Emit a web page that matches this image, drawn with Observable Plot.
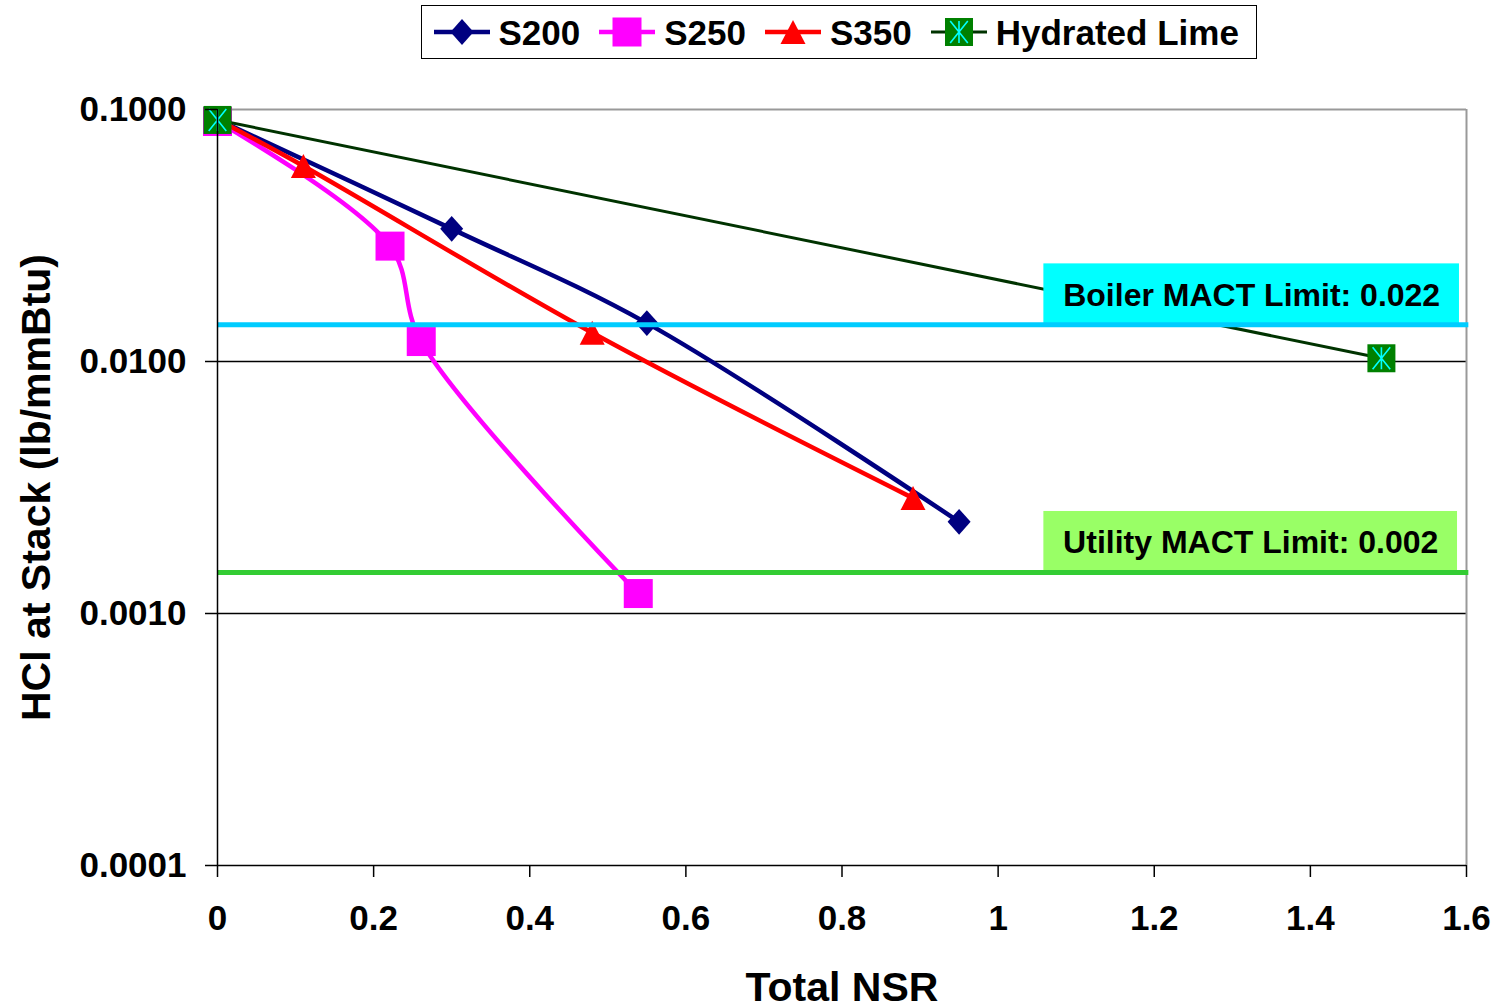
<!DOCTYPE html>
<html><head><meta charset="utf-8">
<script src="https://cdn.jsdelivr.net/npm/d3@7"></script>
<script src="https://cdn.jsdelivr.net/npm/@observablehq/plot@0.6"></script>
<style>
body{margin:0;background:#fff;font-family:"Liberation Sans",Arial,sans-serif;}
#legend{position:relative;height:65px;width:1501px;}
.box{position:absolute;left:421px;top:5px;width:836px;height:54px;box-sizing:border-box;border:1.5px solid #000;display:flex;align-items:center;padding-left:11.5px;white-space:nowrap;}
.item{display:flex;align-items:center;margin-right:19px;flex:none;}
.item svg{margin-right:9px;display:block;}
.item span{font-weight:bold;font-size:35px;line-height:1;color:#000;white-space:nowrap;}
</style></head><body>
<div id="legend"></div>
<div id="chart"></div>
<script>
// ---- data ----
const seriesNames = ["S200", "S250", "S350", "Hydrated Lime"];
const nsrS200 = [0, 0.30, 0.55, 0.95];
const hclS200 = [0.0913, 0.0336, 0.0142, 0.00231];
const nsrS250 = [0, 0.221, 0.261, 0.539];
const hclS250 = [0.0896, 0.0287, 0.0120, 0.00120];
const nsrS350 = [0, 0.11, 0.48, 0.891];
const hclS350 = [0.0913, 0.0597, 0.0130, 0.00287];
const nsrLime = [0, 1.491];
const hclLime = [0.0909, 0.0103];

const limitNames = ["Boiler MACT Limit: 0.022", "Utility MACT Limit: 0.002"];
const limitLevels = [0.0140, 0.001455];
const limitBoxTop = [0.0244, 0.00254];
const limitBoxLeft = [1.0586, 1.0586];
const limitBoxRight = [1.591, 1.5885];

const xTicks = [0, 0.2, 0.4, 0.6, 0.8, 1, 1.2, 1.4, 1.6];
const yTicks = [0.0001, 0.001, 0.01, 0.1];
const xTitle = "Total NSR";
const yTitle = "HCl at Stack (lb/mmBtu)";

// ---- styles ----
const seriesColors = ["#000080", "#FF00FF", "#FF0000", "#003300"];
const limeFill = "#008000", limeStar = "#00FFFF";
const limitLineColors = ["#00CCFF", "#33CC33"];
const limitBoxColors = ["#00FFFF", "#99FF66"];

const diamondSym = {draw(c, size){const r = Math.sqrt(size/Math.PI); c.moveTo(0,-r*1.12); c.lineTo(r,0); c.lineTo(0,r*1.12); c.lineTo(-r,0); c.closePath();}};
const squareSym = {draw(c, size){const r = Math.sqrt(size/Math.PI); c.moveTo(-r,-r); c.lineTo(r,-r); c.lineTo(r,r); c.lineTo(-r,r); c.closePath();}};
const triangleSym = {draw(c, size){const r = Math.sqrt(size/Math.PI); c.moveTo(0,-r*0.96); c.lineTo(r,r*0.96); c.lineTo(-r,r*0.96); c.closePath();}};
const asteriskSym = {draw(c, size){const r = Math.sqrt(size/Math.PI); c.moveTo(0,-r); c.lineTo(0,r); c.moveTo(-0.8*r,-r); c.lineTo(0.8*r,r); c.moveTo(0.8*r,-r); c.lineTo(-0.8*r,r);}};

const table = (xs, ys) => xs.map((x, i) => ({x, y: ys[i]}));
const s200 = table(nsrS200, hclS200);
const s250 = table(nsrS250, hclS250);
const s350 = table(nsrS350, hclS350);
const lime = table(nsrLime, hclLime);
const limits = limitNames.map((name, i) => ({name, level: limitLevels[i], top: limitBoxTop[i], left: limitBoxLeft[i], right: limitBoxRight[i]}));

const lineOpts = {x: "x", y: "y", curve: "catmull-rom", strokeLinejoin: "round", strokeLinecap: "butt"};

const chart = Plot.plot({
  width: 1501,
  height: 943,
  marginTop: 44,
  marginBottom: 143,
  marginLeft: 217,
  marginRight: 35,
  style: {fontFamily: "'Liberation Sans', Arial, sans-serif", fontWeight: "bold", fontSize: "35px", background: "#fff", color: "#000", overflow: "visible"},
  x: {domain: [0, 1.6], label: null},
  y: {type: "log", domain: [0.0001, 0.1], label: null},
  marks: [
    Plot.ruleY(yTicks.slice(1, 3), {stroke: "#000", strokeWidth: 1.5}),
    Plot.ruleY([yTicks[3]], {stroke: "#999", strokeWidth: 2}),
    Plot.ruleX([xTicks[xTicks.length - 1]], {stroke: "#999", strokeWidth: 2}),
    // S200
    Plot.line(s200, {...lineOpts, stroke: seriesColors[0], strokeWidth: 4.5}),
    Plot.dot(s200, {x: "x", y: "y", symbol: diamondSym, r: 11.5, fill: seriesColors[0], stroke: "none"}),
    // S250
    Plot.line(s250, {...lineOpts, stroke: seriesColors[1], strokeWidth: 4.5}),
    Plot.dot(s250, {x: "x", y: "y", symbol: squareSym, r: 14.5, fill: seriesColors[1], stroke: "none"}),
    // S350
    Plot.line(s350, {...lineOpts, stroke: seriesColors[2], strokeWidth: 4.5}),
    Plot.dot(s350, {x: "x", y: "y", symbol: triangleSym, r: 12.5, fill: seriesColors[2], stroke: "none"}),
    // Hydrated lime
    Plot.line(lime, {...lineOpts, stroke: seriesColors[3], strokeWidth: 3}),
    Plot.dot(lime, {x: "x", y: "y", symbol: squareSym, r: 14, fill: limeFill, stroke: "none"}),
    Plot.dot(lime, {x: "x", y: "y", symbol: asteriskSym, r: 11, fill: "none", stroke: limeStar, strokeWidth: 1.6}),
    // limit annotations
    Plot.rect([limits[0]], {x1: "left", x2: "right", y1: "level", y2: "top", fill: limitBoxColors[0]}),
    Plot.rect([limits[1]], {x1: "left", x2: "right", y1: "level", y2: "top", fill: limitBoxColors[1]}),
    Plot.ruleY([limits[0]], {y: "level", stroke: limitLineColors[0], strokeWidth: 5, x2: 1.603}),
    Plot.ruleY([limits[1]], {y: "level", stroke: limitLineColors[1], strokeWidth: 5, x2: 1.603}),
    Plot.text(limits, {x: d => (d.left + d.right) / 2, y: "level", text: "name", dy: -19, lineAnchor: "bottom", fontSize: 32, fontWeight: "bold", fill: "#000"}),
    // axes
    Plot.ruleX([xTicks[0]], {stroke: "#000", strokeWidth: 1.5}),
    Plot.ruleY([yTicks[0]], {stroke: "#000", strokeWidth: 1.5}),
    Plot.axisX({ticks: xTicks, tickSize: 12, tickPadding: 28, tickFormat: d => String(d), stroke: "#000", strokeWidth: 1.5, label: null, fontSize: 35}),
    Plot.axisY({ticks: yTicks, tickSize: 12, tickPadding: 19, tickFormat: d3.format(".4f"), stroke: "#000", strokeWidth: 1.5, label: null, fontSize: 35}),
    Plot.text([xTitle], {frameAnchor: "bottom", dy: 135, lineAnchor: "bottom", textAnchor: "middle", fontSize: 41, fontWeight: "bold", fill: "#000"}),
    Plot.text([yTitle], {frameAnchor: "left", rotate: -90, dx: -168, lineAnchor: "bottom", textAnchor: "middle", fontSize: 41, fontWeight: "bold", fill: "#000"})
  ]
});
document.getElementById("chart").appendChild(chart);

// ---- legend ----
const legendSyms = [
  {sym: diamondSym, r: 11.5, w: 4.5},
  {sym: squareSym, r: 14.5, w: 4.5},
  {sym: triangleSym, r: 12.5, w: 4.5},
  {sym: squareSym, r: 14, w: 3}
];
const box = document.createElement("div");
box.className = "box";
seriesNames.forEach((name, i) => {
  const item = document.createElement("div");
  item.className = "item";
  const L = legendSyms[i];
  const path = d3.symbol(L.sym, Math.PI * L.r * L.r)();
  const fill = i === 3 ? limeFill : seriesColors[i];
  let extra = "";
  if (i === 3) extra = `<path transform="translate(28,16)" d="${d3.symbol(asteriskSym, Math.PI * 121)()}" fill="none" stroke="${limeStar}" stroke-width="1.6"/>`;
  item.innerHTML = `<svg width="56" height="32" viewBox="0 0 56 32"><line x1="0" x2="56" y1="16" y2="16" stroke="${seriesColors[i]}" stroke-width="${L.w}"/><path transform="translate(28,16)" d="${path}" fill="${fill}"/>${extra}</svg><span>${name}</span>`;
  box.appendChild(item);
});
document.getElementById("legend").appendChild(box);
</script>
</body></html>
